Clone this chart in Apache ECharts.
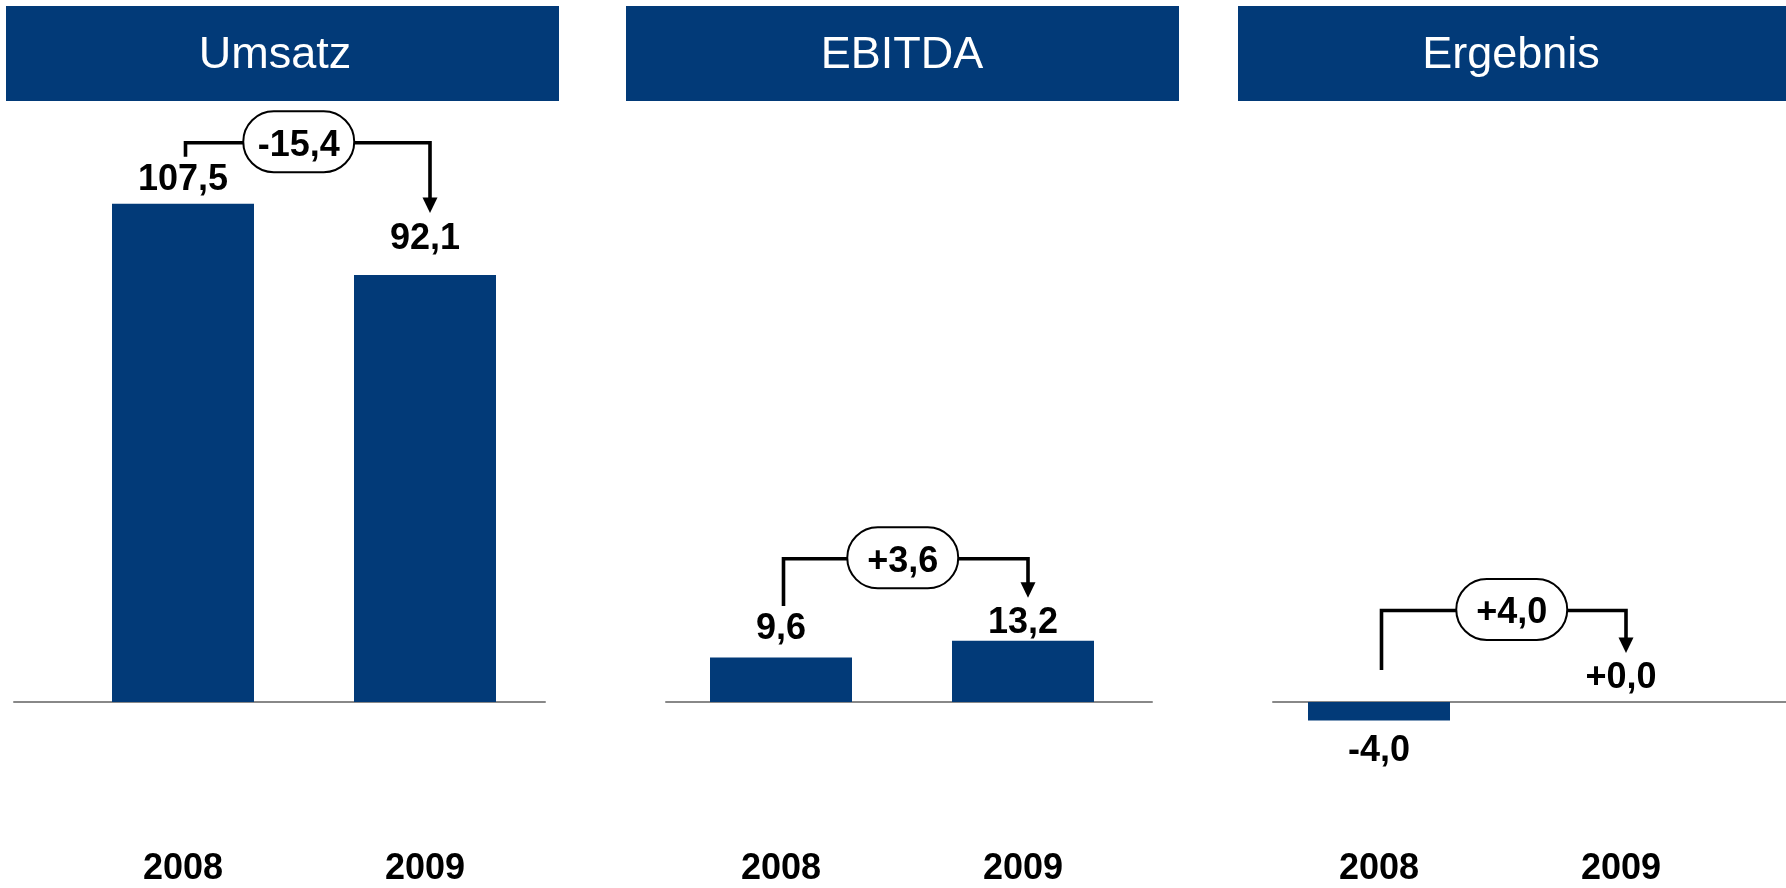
<!DOCTYPE html>
<html><head><meta charset="utf-8">
<script src="https://cdn.jsdelivr.net/npm/echarts@6/dist/echarts.min.js"></script>
<style>html,body{margin:0;padding:0;background:#fff;overflow:hidden}#c{width:1786px;height:888px}</style>
</head><body><div id="c"></div>
<script>
// ---- data ----
const panelTitles = ['Umsatz', 'EBITDA', 'Ergebnis'];
const years = ['2008', '2009'];
const umsatz = [107.5, 92.1];
const ebitda = [9.6, 13.2];
const ergebnis = [-4.0, 0.0];
const deltas = [-15.4, 3.6, 4.0];
const signed = [false, false, true];

// ---- layout / style ----
const values = [umsatz, ebitda, ergebnis];
const BLUE = '#023a78';
const FONT = "'Liberation Sans', Arial, sans-serif";
const yMin = -30, yMax = 120;
const gridTop = 145.8, gridBottom = 46.95;
const barGridLeft = [62, 660, 1258];
const barGridWidth = 484;
const baseLeft = [14, 666, 1273];
const baseRight = [545, 1152, 1786];
const headerLeft = [6, 626, 1238];
const headerWidth = 553;
const headerTextX = [275, 902, 1511];
const labelDist = [[6, 18], [10.5, 0], [13, 5.5]];
const bracketRise = [61, 82, 91.5];
const leftGap = [47, 51.5, 32];
const arrowGap = [62, 43, 49];
const pillShift = [-9, -3, 8];

function fmt(v, sign) {
  const s = Math.abs(v).toFixed(1).replace('.', ',');
  return (v < 0 ? '-' : (sign ? '+' : '')) + s;
}

const grid = [], xAxis = [], yAxis = [], series = [], graphic = [];
panelTitles.forEach((t, p) => {
  grid.push({ left: barGridLeft[p], width: barGridWidth, top: gridTop, bottom: gridBottom });
  grid.push({ left: baseLeft[p], width: baseRight[p] - baseLeft[p], top: gridTop, bottom: gridBottom });
  xAxis.push({
    type: 'category', gridIndex: 2 * p, data: years,
    axisLine: { show: false, onZero: false }, axisTick: { show: false },
    axisLabel: { fontSize: 36, fontWeight: 'bold', color: '#000', fontFamily: FONT, margin: 10 },
    splitLine: { show: false }
  });
  xAxis.push({
    type: 'category', gridIndex: 2 * p + 1, data: years,
    axisLine: { show: true, onZero: true, lineStyle: { color: '#888', width: 2 } },
    axisTick: { show: false }, axisLabel: { show: false }, splitLine: { show: false }
  });
  yAxis.push({ type: 'value', gridIndex: 2 * p, min: yMin, max: yMax, show: false });
  yAxis.push({ type: 'value', gridIndex: 2 * p + 1, min: yMin, max: yMax, show: false });

  series.push({
    type: 'bar', xAxisIndex: 2 * p, yAxisIndex: 2 * p, barWidth: 142, z: 1,
    itemStyle: { color: BLUE },
    label: {
      show: true, fontSize: 36, fontWeight: 'bold', color: '#000', fontFamily: FONT,
      formatter: (pr) => fmt(pr.value, signed[p])
    },
    data: values[p].map((v, i) => ({ value: v, label: { position: v < 0 ? 'bottom' : 'top', distance: labelDist[p][i] } }))
  });

  series.push({
    type: 'custom', xAxisIndex: 2 * p, yAxisIndex: 2 * p, z: 10, silent: true,
    data: [[0, values[p][0], values[p][1], deltas[p]]],
    renderItem: (params, api) => {
      const v1 = api.value(1), v2 = api.value(2), d = api.value(3);
      const c1 = api.coord([0, v1]), c2 = api.coord([1, v2]), c0 = api.coord([0, 0]);
      const y0 = c0[1];
      const top1 = Math.min(c1[1], y0), top2 = Math.min(c2[1], y0);
      const yb = Math.min(top1, top2) - bracketRise[p];
      const x1 = c1[0] + 2.5, x2 = c2[0] + 5;
      const y1 = top1 - leftGap[p];
      const tip = top2 - arrowGap[p];
      const pw = 111, ph = 61;
      const pcx = (x1 + x2) / 2 + pillShift[p];
      return {
        type: 'group', children: [
          { type: 'polyline', shape: { points: [[x1, y1], [x1, yb], [x2, yb], [x2, tip - 14]] },
            style: { stroke: '#000', lineWidth: 3.6, fill: 'none' } },
          { type: 'polygon', shape: { points: [[x2 - 7.5, tip - 15.5], [x2 + 7.5, tip - 15.5], [x2, tip]] },
            style: { fill: '#000' } },
          { type: 'rect', shape: { x: pcx - pw / 2, y: yb - ph / 2 - 1, width: pw, height: ph, r: 30.5 },
            style: { fill: '#fff', stroke: '#000', lineWidth: 2 } },
          { type: 'text', x: pcx, y: yb + 3,
            style: { text: fmt(d, true), fontSize: 36, fontWeight: 'bold', fontFamily: FONT, fill: '#000',
                     align: 'center', verticalAlign: 'middle' } }
        ]
      };
    }
  });

  graphic.push({ type: 'rect', shape: { x: headerLeft[p], y: 6, width: headerWidth, height: 95 }, style: { fill: BLUE } });
  graphic.push({ type: 'text', x: headerTextX[p], y: 56,
    style: { text: t, fill: '#fff', fontSize: 45, fontFamily: FONT, align: 'center', verticalAlign: 'middle' } });
});

const chart = echarts.init(document.getElementById('c'), null, { renderer: 'canvas' });
chart.setOption({ animation: false, backgroundColor: '#fff', grid, xAxis, yAxis, series, graphic });
</script></body></html>
